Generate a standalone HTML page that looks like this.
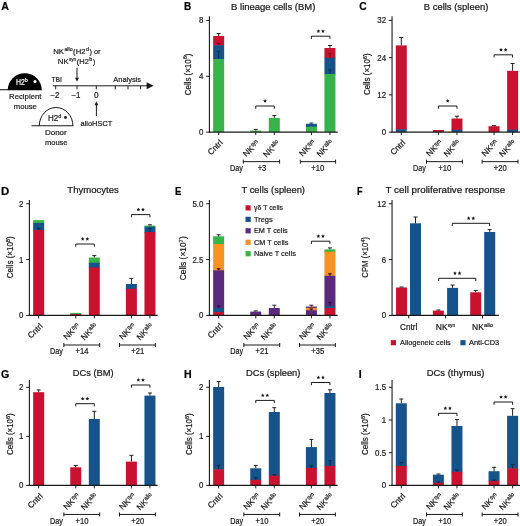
<!DOCTYPE html>
<html><head><meta charset="utf-8"><title>Figure</title>
<style>html,body{margin:0;padding:0;background:#fff}svg{display:block;will-change:transform;opacity:0.999}text{font-family:"Liberation Sans",sans-serif;stroke-width:0.22px;stroke-linejoin:round}</style>
</head><body>
<svg width="520" height="526" viewBox="0 0 520 526">
<rect width="520" height="526" fill="#fff"/>
<text x="1.3" y="9.7" font-size="10.6" font-weight="bold" fill="#000" stroke="#000">A</text>
<path d="M7.7 90.2 A17.05 17.0 0 0 1 41.8 90.2 Z" fill="#000"/>
<line x1="0.00" y1="89.70" x2="9.00" y2="89.70" stroke="#1a1a1a" stroke-width="1.1" stroke-linecap="butt"/>
<text x="16.0" y="84.6" font-size="8.3" textLength="11.6" lengthAdjust="spacingAndGlyphs" fill="#fff" stroke="#fff">H2<tspan font-size="5.8" dy="-2.6">b</tspan></text>
<circle cx="35.0" cy="81.5" r="1.6" fill="#fff"/>
<text x="9.0" y="99.1" font-size="8.1" textLength="32.5" lengthAdjust="spacingAndGlyphs" fill="#1c1a1b" stroke="#1c1a1b">Recipient</text>
<text x="13.8" y="108.6" font-size="8.1" textLength="23.1" lengthAdjust="spacingAndGlyphs" fill="#1c1a1b" stroke="#1c1a1b">mouse</text>
<path d="M39.3 125.8 A16.8 18.3 0 0 1 72.9 125.8" fill="#fff" stroke="#1a1a1a" stroke-width="1"/>
<line x1="31.50" y1="125.80" x2="73.40" y2="125.80" stroke="#1a1a1a" stroke-width="1.1" stroke-linecap="butt"/>
<text x="47.9" y="120.8" font-size="8.3" textLength="13.4" lengthAdjust="spacingAndGlyphs" fill="#1c1a1b" stroke="#1c1a1b">H2<tspan font-size="5.8" dy="-2.6">d</tspan></text>
<circle cx="65.5" cy="117.5" r="1.45" fill="#1a1a1a"/>
<text x="45.0" y="135.2" font-size="8.1" textLength="21.7" lengthAdjust="spacingAndGlyphs" fill="#1c1a1b" stroke="#1c1a1b">Donor</text>
<text x="45.0" y="144.8" font-size="8.1" textLength="22.5" lengthAdjust="spacingAndGlyphs" fill="#1c1a1b" stroke="#1c1a1b">mouse</text>
<line x1="52.80" y1="85.80" x2="148.00" y2="85.80" stroke="#1a1a1a" stroke-width="1.0" stroke-linecap="butt"/>
<path d="M153.6 85.8 L146.6 82.3 L146.6 89.3 Z" fill="#1a1a1a"/>
<line x1="55.70" y1="85.80" x2="55.70" y2="89.30" stroke="#1a1a1a" stroke-width="1.0" stroke-linecap="butt"/>
<line x1="77.00" y1="85.80" x2="77.00" y2="89.30" stroke="#1a1a1a" stroke-width="1.0" stroke-linecap="butt"/>
<line x1="96.30" y1="85.80" x2="96.30" y2="89.30" stroke="#1a1a1a" stroke-width="1.0" stroke-linecap="butt"/>
<line x1="115.30" y1="85.80" x2="115.30" y2="89.30" stroke="#1a1a1a" stroke-width="1.0" stroke-linecap="butt"/>
<line x1="128.00" y1="85.80" x2="128.00" y2="89.30" stroke="#1a1a1a" stroke-width="1.0" stroke-linecap="butt"/>
<line x1="140.60" y1="85.80" x2="140.60" y2="89.30" stroke="#1a1a1a" stroke-width="1.0" stroke-linecap="butt"/>
<text x="51.4" y="82.4" font-size="8.1" textLength="10.6" lengthAdjust="spacingAndGlyphs" fill="#1c1a1b" stroke="#1c1a1b">TBI</text>
<text x="113.3" y="82.2" font-size="8.1" textLength="27.7" lengthAdjust="spacingAndGlyphs" fill="#1c1a1b" stroke="#1c1a1b">Analysis</text>
<text x="55.0" y="97.6" font-size="8.3" textLength="8.99" lengthAdjust="spacingAndGlyphs" text-anchor="middle" fill="#1c1a1b" stroke="#1c1a1b">−2</text>
<text x="76.0" y="97.6" font-size="8.3" textLength="8.99" lengthAdjust="spacingAndGlyphs" text-anchor="middle" fill="#1c1a1b" stroke="#1c1a1b">−1</text>
<text x="96.4" y="97.6" font-size="8.3" text-anchor="middle" fill="#1c1a1b" stroke="#1c1a1b">0</text>
<line x1="77.00" y1="67.70" x2="77.00" y2="78.50" stroke="#1a1a1a" stroke-width="1.0" stroke-linecap="butt"/>
<path d="M77 81.8 L75.1 77.8 L78.9 77.8 Z" fill="#1a1a1a"/>
<line x1="96.40" y1="116.00" x2="96.40" y2="104.50" stroke="#1a1a1a" stroke-width="1.0" stroke-linecap="butt"/>
<path d="M96.4 101.3 L94.5 105.3 L98.3 105.3 Z" fill="#1a1a1a"/>
<text x="80.5" y="125.6" font-size="8.1" textLength="31.8" lengthAdjust="spacingAndGlyphs" fill="#1c1a1b" stroke="#1c1a1b">alloHSCT</text>
<text x="53.2" y="53.8" font-size="7.9" textLength="10.9" lengthAdjust="spacingAndGlyphs" fill="#1c1a1b" stroke="#1c1a1b">NK</text>
<text x="64.4" y="51.0" font-size="5.6" textLength="8.2" lengthAdjust="spacingAndGlyphs" fill="#1c1a1b" stroke="#1c1a1b">allo</text>
<text x="73.1" y="53.8" font-size="7.9" textLength="12.4" lengthAdjust="spacingAndGlyphs" fill="#1c1a1b" stroke="#1c1a1b">(H2</text>
<text x="85.9" y="51.0" font-size="5.6" textLength="3.0" lengthAdjust="spacingAndGlyphs" fill="#1c1a1b" stroke="#1c1a1b">d</text>
<text x="89.5" y="53.8" font-size="7.9" textLength="11.0" lengthAdjust="spacingAndGlyphs" fill="#1c1a1b" stroke="#1c1a1b">) or</text>
<text x="57.8" y="63.6" font-size="7.9" textLength="10.9" lengthAdjust="spacingAndGlyphs" fill="#1c1a1b" stroke="#1c1a1b">NK</text>
<text x="69.0" y="60.800000000000004" font-size="5.6" textLength="7.0" lengthAdjust="spacingAndGlyphs" fill="#1c1a1b" stroke="#1c1a1b">syn</text>
<text x="76.8" y="63.6" font-size="7.9" textLength="12.1" lengthAdjust="spacingAndGlyphs" fill="#1c1a1b" stroke="#1c1a1b">(H2</text>
<text x="89.3" y="60.800000000000004" font-size="5.6" textLength="3.0" lengthAdjust="spacingAndGlyphs" fill="#1c1a1b" stroke="#1c1a1b">b</text>
<text x="93.0" y="63.6" font-size="7.9" textLength="2.2" lengthAdjust="spacingAndGlyphs" fill="#1c1a1b" stroke="#1c1a1b">)</text>
<text x="184.0" y="9.7" font-size="10.6" font-weight="bold" textLength="7.2" lengthAdjust="spacingAndGlyphs" fill="#000" stroke="#000">B</text>
<text x="231.1" y="9.5" font-size="8.6" textLength="84.3" lengthAdjust="spacingAndGlyphs" fill="#1c1a1b" stroke="#1c1a1b">B lineage cells (BM)</text>
<rect x="213.15" y="36.00" width="11.00" height="9.70" fill="#ca1230"/>
<rect x="213.15" y="45.20" width="11.00" height="14.30" fill="#17538b"/>
<rect x="213.15" y="59.00" width="11.00" height="73.10" fill="#36b44a"/>
<rect x="250.25" y="130.60" width="11.00" height="1.50" fill="#36b44a"/>
<rect x="268.80" y="117.90" width="11.00" height="14.20" fill="#36b44a"/>
<rect x="305.90" y="123.80" width="11.00" height="3.40" fill="#17538b"/>
<rect x="305.90" y="126.70" width="11.00" height="5.40" fill="#36b44a"/>
<rect x="324.45" y="48.00" width="11.00" height="10.20" fill="#ca1230"/>
<rect x="324.45" y="57.70" width="11.00" height="16.80" fill="#17538b"/>
<rect x="324.45" y="74.00" width="11.00" height="58.10" fill="#36b44a"/>
<line x1="218.65" y1="36.00" x2="218.65" y2="33.50" stroke="#231f20" stroke-width="1.0" stroke-linecap="butt"/>
<line x1="216.65" y1="33.50" x2="220.65" y2="33.50" stroke="#231f20" stroke-width="1.0" stroke-linecap="butt"/>
<line x1="218.65" y1="45.20" x2="218.65" y2="43.40" stroke="#7a0a20" stroke-width="1.2" stroke-linecap="butt"/>
<line x1="216.85" y1="43.40" x2="220.45" y2="43.40" stroke="#7a0a20" stroke-width="1.2" stroke-linecap="butt"/>
<line x1="218.65" y1="59.00" x2="218.65" y2="51.40" stroke="#0e3558" stroke-width="1.2" stroke-linecap="butt"/>
<line x1="216.85" y1="51.40" x2="220.45" y2="51.40" stroke="#0e3558" stroke-width="1.2" stroke-linecap="butt"/>
<line x1="255.75" y1="130.60" x2="255.75" y2="129.40" stroke="#231f20" stroke-width="1.0" stroke-linecap="butt"/>
<line x1="253.75" y1="129.40" x2="257.75" y2="129.40" stroke="#231f20" stroke-width="1.0" stroke-linecap="butt"/>
<line x1="274.30" y1="117.90" x2="274.30" y2="115.60" stroke="#231f20" stroke-width="1.0" stroke-linecap="butt"/>
<line x1="272.30" y1="115.60" x2="276.30" y2="115.60" stroke="#231f20" stroke-width="1.0" stroke-linecap="butt"/>
<line x1="311.40" y1="123.80" x2="311.40" y2="123.00" stroke="#0e3558" stroke-width="1.0" stroke-linecap="butt"/>
<line x1="309.40" y1="123.00" x2="313.40" y2="123.00" stroke="#0e3558" stroke-width="1.0" stroke-linecap="butt"/>
<line x1="329.95" y1="48.00" x2="329.95" y2="45.50" stroke="#231f20" stroke-width="1.0" stroke-linecap="butt"/>
<line x1="327.95" y1="45.50" x2="331.95" y2="45.50" stroke="#231f20" stroke-width="1.0" stroke-linecap="butt"/>
<line x1="329.95" y1="57.70" x2="329.95" y2="53.50" stroke="#7a0a20" stroke-width="1.2" stroke-linecap="butt"/>
<line x1="328.15" y1="53.50" x2="331.75" y2="53.50" stroke="#7a0a20" stroke-width="1.2" stroke-linecap="butt"/>
<line x1="329.95" y1="74.00" x2="329.95" y2="69.70" stroke="#0e3558" stroke-width="1.2" stroke-linecap="butt"/>
<line x1="328.15" y1="69.70" x2="331.75" y2="69.70" stroke="#0e3558" stroke-width="1.2" stroke-linecap="butt"/>
<line x1="209.40" y1="16.30" x2="209.40" y2="132.60" stroke="#1a1a1a" stroke-width="1.1" stroke-linecap="butt"/>
<line x1="208.85" y1="132.10" x2="337.70" y2="132.10" stroke="#1a1a1a" stroke-width="1.1" stroke-linecap="butt"/>
<line x1="206.20" y1="20.40" x2="209.40" y2="20.40" stroke="#1a1a1a" stroke-width="1.0" stroke-linecap="butt"/>
<text x="203.4" y="23.4" font-size="8.3" textLength="4.38" lengthAdjust="spacingAndGlyphs" text-anchor="end" fill="#1c1a1b" stroke="#1c1a1b">8</text>
<line x1="206.20" y1="76.25" x2="209.40" y2="76.25" stroke="#1a1a1a" stroke-width="1.0" stroke-linecap="butt"/>
<text x="203.4" y="79.25" font-size="8.3" textLength="4.38" lengthAdjust="spacingAndGlyphs" text-anchor="end" fill="#1c1a1b" stroke="#1c1a1b">4</text>
<line x1="206.20" y1="132.10" x2="209.40" y2="132.10" stroke="#1a1a1a" stroke-width="1.0" stroke-linecap="butt"/>
<text x="203.4" y="135.1" font-size="8.3" textLength="4.38" lengthAdjust="spacingAndGlyphs" text-anchor="end" fill="#1c1a1b" stroke="#1c1a1b">0</text>
<text transform="translate(190.5,74.4) rotate(-90)" font-size="8.3" text-anchor="middle" textLength="41.7" lengthAdjust="spacingAndGlyphs" fill="#1c1a1b" stroke="#1c1a1b">Cells (×10<tspan font-size="5.9" dy="-3.3">6</tspan><tspan dy="3.3">)</tspan></text>
<line x1="218.65" y1="132.10" x2="218.65" y2="135.10" stroke="#1a1a1a" stroke-width="1.0" stroke-linecap="butt"/>
<g transform="translate(223.25,143.30) rotate(-45)">
<text x="-17.3" y="0" font-size="8.3" textLength="17.3" lengthAdjust="spacingAndGlyphs" fill="#1c1a1b" stroke="#1c1a1b">Cntrl</text>
</g>
<line x1="255.75" y1="132.10" x2="255.75" y2="135.10" stroke="#1a1a1a" stroke-width="1.0" stroke-linecap="butt"/>
<g transform="translate(259.75,143.60) rotate(-45)">
<text x="-19.25" y="0" font-size="8.3" textLength="11.8" lengthAdjust="spacingAndGlyphs" fill="#1c1a1b" stroke="#1c1a1b">NK</text>
<text x="-7.299999999999999" y="-2.4" font-size="6.1" textLength="7.3" lengthAdjust="spacingAndGlyphs" fill="#1c1a1b" stroke="#1c1a1b">syn</text>
</g>
<line x1="274.30" y1="132.10" x2="274.30" y2="135.10" stroke="#1a1a1a" stroke-width="1.0" stroke-linecap="butt"/>
<g transform="translate(280.60,143.90) rotate(-45)">
<text x="-19.9" y="0" font-size="8.3" textLength="11.5" lengthAdjust="spacingAndGlyphs" fill="#1c1a1b" stroke="#1c1a1b">NK</text>
<text x="-8.299999999999999" y="-2.7" font-size="6.1" textLength="8.3" lengthAdjust="spacingAndGlyphs" fill="#1c1a1b" stroke="#1c1a1b">allo</text>
</g>
<line x1="311.40" y1="132.10" x2="311.40" y2="135.10" stroke="#1a1a1a" stroke-width="1.0" stroke-linecap="butt"/>
<g transform="translate(316.00,143.30) rotate(-45)">
<text x="-19.25" y="0" font-size="8.3" textLength="11.8" lengthAdjust="spacingAndGlyphs" fill="#1c1a1b" stroke="#1c1a1b">NK</text>
<text x="-7.299999999999999" y="-2.4" font-size="6.1" textLength="7.3" lengthAdjust="spacingAndGlyphs" fill="#1c1a1b" stroke="#1c1a1b">syn</text>
</g>
<line x1="329.95" y1="132.10" x2="329.95" y2="135.10" stroke="#1a1a1a" stroke-width="1.0" stroke-linecap="butt"/>
<g transform="translate(333.95,143.40) rotate(-45)">
<text x="-19.9" y="0" font-size="8.3" textLength="11.5" lengthAdjust="spacingAndGlyphs" fill="#1c1a1b" stroke="#1c1a1b">NK</text>
<text x="-8.299999999999999" y="-2.7" font-size="6.1" textLength="8.3" lengthAdjust="spacingAndGlyphs" fill="#1c1a1b" stroke="#1c1a1b">allo</text>
</g>
<line x1="243.30" y1="161.65" x2="279.60" y2="161.65" stroke="#1a1a1a" stroke-width="1.0" stroke-linecap="butt"/>
<line x1="243.30" y1="159.65" x2="243.30" y2="163.65" stroke="#1a1a1a" stroke-width="1.0" stroke-linecap="butt"/>
<line x1="279.60" y1="159.65" x2="279.60" y2="163.65" stroke="#1a1a1a" stroke-width="1.0" stroke-linecap="butt"/>
<text x="262.025" y="170.85" font-size="8.3" textLength="8.71" lengthAdjust="spacingAndGlyphs" text-anchor="middle" fill="#1c1a1b" stroke="#1c1a1b">+3</text>
<line x1="300.30" y1="161.65" x2="335.60" y2="161.65" stroke="#1a1a1a" stroke-width="1.0" stroke-linecap="butt"/>
<line x1="300.30" y1="159.65" x2="300.30" y2="163.65" stroke="#1a1a1a" stroke-width="1.0" stroke-linecap="butt"/>
<line x1="335.60" y1="159.65" x2="335.60" y2="163.65" stroke="#1a1a1a" stroke-width="1.0" stroke-linecap="butt"/>
<text x="317.675" y="170.85" font-size="8.3" textLength="12.95" lengthAdjust="spacingAndGlyphs" text-anchor="middle" fill="#1c1a1b" stroke="#1c1a1b">+10</text>
<text x="230.0" y="170.85" font-size="8.3" textLength="12.8" lengthAdjust="spacingAndGlyphs" fill="#1c1a1b" stroke="#1c1a1b">Day</text>
<path d="M255.75 108.70V106.00H274.30V108.70" fill="none" stroke="#1a1a1a" stroke-width="1.0"/>
<polygon points="265.02,99.05 265.58,100.23 266.88,100.40 265.93,101.29 266.17,102.58 265.02,101.95 263.88,102.58 264.12,101.29 263.17,100.40 264.47,100.23" fill="#151515"/>
<path d="M311.40 38.90V36.20H329.95V38.90" fill="none" stroke="#1a1a1a" stroke-width="1.0"/>
<polygon points="318.38,29.25 318.93,30.43 320.23,30.60 319.28,31.49 319.52,32.78 318.38,32.15 317.23,32.78 317.47,31.49 316.52,30.60 317.82,30.43" fill="#151515"/>
<polygon points="322.98,29.25 323.53,30.43 324.83,30.60 323.88,31.49 324.12,32.78 322.98,32.15 321.83,32.78 322.07,31.49 321.12,30.60 322.42,30.43" fill="#151515"/>
<text x="359.2" y="9.7" font-size="10.6" font-weight="bold" textLength="7.4" lengthAdjust="spacingAndGlyphs" fill="#000" stroke="#000">C</text>
<text x="423.8" y="9.5" font-size="8.6" textLength="64.5" lengthAdjust="spacingAndGlyphs" fill="#1c1a1b" stroke="#1c1a1b">B cells (spleen)</text>
<rect x="395.80" y="45.40" width="11.00" height="84.30" fill="#ca1230"/>
<rect x="395.80" y="129.20" width="11.00" height="2.90" fill="#17538b"/>
<rect x="432.90" y="130.00" width="11.00" height="2.10" fill="#ca1230"/>
<rect x="451.45" y="118.50" width="11.00" height="11.80" fill="#ca1230"/>
<rect x="451.45" y="129.80" width="11.00" height="2.30" fill="#17538b"/>
<rect x="488.55" y="126.20" width="11.00" height="5.90" fill="#ca1230"/>
<rect x="507.10" y="70.80" width="11.00" height="59.30" fill="#ca1230"/>
<rect x="507.10" y="129.60" width="11.00" height="2.50" fill="#17538b"/>
<line x1="401.30" y1="45.40" x2="401.30" y2="37.50" stroke="#231f20" stroke-width="1.0" stroke-linecap="butt"/>
<line x1="399.30" y1="37.50" x2="403.30" y2="37.50" stroke="#231f20" stroke-width="1.0" stroke-linecap="butt"/>
<line x1="456.95" y1="118.50" x2="456.95" y2="116.20" stroke="#231f20" stroke-width="1.0" stroke-linecap="butt"/>
<line x1="454.95" y1="116.20" x2="458.95" y2="116.20" stroke="#231f20" stroke-width="1.0" stroke-linecap="butt"/>
<line x1="494.05" y1="126.20" x2="494.05" y2="125.60" stroke="#231f20" stroke-width="1.0" stroke-linecap="butt"/>
<line x1="492.05" y1="125.60" x2="496.05" y2="125.60" stroke="#231f20" stroke-width="1.0" stroke-linecap="butt"/>
<line x1="512.60" y1="70.80" x2="512.60" y2="63.50" stroke="#231f20" stroke-width="1.0" stroke-linecap="butt"/>
<line x1="510.60" y1="63.50" x2="514.60" y2="63.50" stroke="#231f20" stroke-width="1.0" stroke-linecap="butt"/>
<line x1="392.05" y1="16.30" x2="392.05" y2="132.60" stroke="#1a1a1a" stroke-width="1.1" stroke-linecap="butt"/>
<line x1="391.50" y1="132.10" x2="520.00" y2="132.10" stroke="#1a1a1a" stroke-width="1.1" stroke-linecap="butt"/>
<line x1="388.85" y1="20.40" x2="392.05" y2="20.40" stroke="#1a1a1a" stroke-width="1.0" stroke-linecap="butt"/>
<text x="386.05" y="23.4" font-size="8.3" textLength="8.77" lengthAdjust="spacingAndGlyphs" text-anchor="end" fill="#1c1a1b" stroke="#1c1a1b">32</text>
<line x1="388.85" y1="57.70" x2="392.05" y2="57.70" stroke="#1a1a1a" stroke-width="1.0" stroke-linecap="butt"/>
<text x="386.05" y="60.7" font-size="8.3" textLength="8.77" lengthAdjust="spacingAndGlyphs" text-anchor="end" fill="#1c1a1b" stroke="#1c1a1b">24</text>
<line x1="388.85" y1="94.85" x2="392.05" y2="94.85" stroke="#1a1a1a" stroke-width="1.0" stroke-linecap="butt"/>
<text x="386.05" y="97.85" font-size="8.3" textLength="8.77" lengthAdjust="spacingAndGlyphs" text-anchor="end" fill="#1c1a1b" stroke="#1c1a1b">12</text>
<line x1="388.85" y1="132.10" x2="392.05" y2="132.10" stroke="#1a1a1a" stroke-width="1.0" stroke-linecap="butt"/>
<text x="386.05" y="135.1" font-size="8.3" textLength="4.38" lengthAdjust="spacingAndGlyphs" text-anchor="end" fill="#1c1a1b" stroke="#1c1a1b">0</text>
<text transform="translate(369.9,74.2) rotate(-90)" font-size="8.3" text-anchor="middle" textLength="41.7" lengthAdjust="spacingAndGlyphs" fill="#1c1a1b" stroke="#1c1a1b">Cells (×10<tspan font-size="5.9" dy="-3.3">6</tspan><tspan dy="3.3">)</tspan></text>
<line x1="401.30" y1="132.10" x2="401.30" y2="135.10" stroke="#1a1a1a" stroke-width="1.0" stroke-linecap="butt"/>
<g transform="translate(405.90,143.30) rotate(-45)">
<text x="-17.3" y="0" font-size="8.3" textLength="17.3" lengthAdjust="spacingAndGlyphs" fill="#1c1a1b" stroke="#1c1a1b">Cntrl</text>
</g>
<line x1="438.40" y1="132.10" x2="438.40" y2="135.10" stroke="#1a1a1a" stroke-width="1.0" stroke-linecap="butt"/>
<g transform="translate(443.00,143.30) rotate(-45)">
<text x="-19.25" y="0" font-size="8.3" textLength="11.8" lengthAdjust="spacingAndGlyphs" fill="#1c1a1b" stroke="#1c1a1b">NK</text>
<text x="-7.299999999999999" y="-2.4" font-size="6.1" textLength="7.3" lengthAdjust="spacingAndGlyphs" fill="#1c1a1b" stroke="#1c1a1b">syn</text>
</g>
<line x1="456.95" y1="132.10" x2="456.95" y2="135.10" stroke="#1a1a1a" stroke-width="1.0" stroke-linecap="butt"/>
<g transform="translate(460.95,143.40) rotate(-45)">
<text x="-19.9" y="0" font-size="8.3" textLength="11.5" lengthAdjust="spacingAndGlyphs" fill="#1c1a1b" stroke="#1c1a1b">NK</text>
<text x="-8.299999999999999" y="-2.7" font-size="6.1" textLength="8.3" lengthAdjust="spacingAndGlyphs" fill="#1c1a1b" stroke="#1c1a1b">allo</text>
</g>
<line x1="494.05" y1="132.10" x2="494.05" y2="135.10" stroke="#1a1a1a" stroke-width="1.0" stroke-linecap="butt"/>
<g transform="translate(498.65,143.30) rotate(-45)">
<text x="-19.25" y="0" font-size="8.3" textLength="11.8" lengthAdjust="spacingAndGlyphs" fill="#1c1a1b" stroke="#1c1a1b">NK</text>
<text x="-7.299999999999999" y="-2.4" font-size="6.1" textLength="7.3" lengthAdjust="spacingAndGlyphs" fill="#1c1a1b" stroke="#1c1a1b">syn</text>
</g>
<line x1="512.60" y1="132.10" x2="512.60" y2="135.10" stroke="#1a1a1a" stroke-width="1.0" stroke-linecap="butt"/>
<g transform="translate(516.60,143.40) rotate(-45)">
<text x="-19.9" y="0" font-size="8.3" textLength="11.5" lengthAdjust="spacingAndGlyphs" fill="#1c1a1b" stroke="#1c1a1b">NK</text>
<text x="-8.299999999999999" y="-2.7" font-size="6.1" textLength="8.3" lengthAdjust="spacingAndGlyphs" fill="#1c1a1b" stroke="#1c1a1b">allo</text>
</g>
<line x1="426.50" y1="161.65" x2="462.35" y2="161.65" stroke="#1a1a1a" stroke-width="1.0" stroke-linecap="butt"/>
<line x1="426.50" y1="159.65" x2="426.50" y2="163.65" stroke="#1a1a1a" stroke-width="1.0" stroke-linecap="butt"/>
<line x1="462.35" y1="159.65" x2="462.35" y2="163.65" stroke="#1a1a1a" stroke-width="1.0" stroke-linecap="butt"/>
<text x="444.67500000000007" y="170.85" font-size="8.3" textLength="12.95" lengthAdjust="spacingAndGlyphs" text-anchor="middle" fill="#1c1a1b" stroke="#1c1a1b">+10</text>
<line x1="482.15" y1="161.65" x2="518.00" y2="161.65" stroke="#1a1a1a" stroke-width="1.0" stroke-linecap="butt"/>
<line x1="482.15" y1="159.65" x2="482.15" y2="163.65" stroke="#1a1a1a" stroke-width="1.0" stroke-linecap="butt"/>
<line x1="518.00" y1="159.65" x2="518.00" y2="163.65" stroke="#1a1a1a" stroke-width="1.0" stroke-linecap="butt"/>
<text x="500.32500000000005" y="170.85" font-size="8.3" textLength="12.95" lengthAdjust="spacingAndGlyphs" text-anchor="middle" fill="#1c1a1b" stroke="#1c1a1b">+20</text>
<text x="413.0" y="170.85" font-size="8.3" textLength="12.8" lengthAdjust="spacingAndGlyphs" fill="#1c1a1b" stroke="#1c1a1b">Day</text>
<path d="M438.40 108.70V106.00H456.95V108.70" fill="none" stroke="#1a1a1a" stroke-width="1.0"/>
<polygon points="447.68,99.05 448.23,100.23 449.53,100.40 448.58,101.29 448.82,102.58 447.68,101.95 446.53,102.58 446.77,101.29 445.82,100.40 447.12,100.23" fill="#151515"/>
<path d="M494.05 57.50V54.80H512.60V57.50" fill="none" stroke="#1a1a1a" stroke-width="1.0"/>
<polygon points="501.03,47.85 501.58,49.03 502.88,49.20 501.93,50.09 502.17,51.38 501.03,50.75 499.88,51.38 500.12,50.09 499.17,49.20 500.47,49.03" fill="#151515"/>
<polygon points="505.63,47.85 506.18,49.03 507.48,49.20 506.53,50.09 506.77,51.38 505.63,50.75 504.48,51.38 504.72,50.09 503.77,49.20 505.07,49.03" fill="#151515"/>
<text x="0.9" y="194.7" font-size="10.6" font-weight="bold" textLength="8.2" lengthAdjust="spacingAndGlyphs" fill="#000" stroke="#000">D</text>
<text x="67.3" y="192.7" font-size="8.6" textLength="51.5" lengthAdjust="spacingAndGlyphs" fill="#1c1a1b" stroke="#1c1a1b">Thymocytes</text>
<rect x="33.15" y="220.10" width="11.00" height="3.30" fill="#36b44a"/>
<rect x="33.15" y="222.90" width="11.00" height="7.60" fill="#17538b"/>
<rect x="33.15" y="230.00" width="11.00" height="85.40" fill="#ca1230"/>
<rect x="70.25" y="312.90" width="11.00" height="1.60" fill="#36b44a"/>
<rect x="70.25" y="314.00" width="11.00" height="1.40" fill="#ca1230"/>
<rect x="88.80" y="257.50" width="11.00" height="5.70" fill="#36b44a"/>
<rect x="88.80" y="262.70" width="11.00" height="5.30" fill="#17538b"/>
<rect x="88.80" y="267.50" width="11.00" height="47.90" fill="#ca1230"/>
<rect x="125.90" y="284.00" width="11.00" height="5.30" fill="#17538b"/>
<rect x="125.90" y="288.80" width="11.00" height="26.60" fill="#ca1230"/>
<rect x="144.45" y="225.60" width="11.00" height="1.60" fill="#36b44a"/>
<rect x="144.45" y="226.70" width="11.00" height="5.80" fill="#17538b"/>
<rect x="144.45" y="232.00" width="11.00" height="83.40" fill="#ca1230"/>
<line x1="38.65" y1="230.00" x2="38.65" y2="228.20" stroke="#0b2f52" stroke-width="1.2" stroke-linecap="butt"/>
<line x1="36.85" y1="228.20" x2="40.45" y2="228.20" stroke="#0b2f52" stroke-width="1.2" stroke-linecap="butt"/>
<line x1="94.30" y1="257.50" x2="94.30" y2="255.60" stroke="#231f20" stroke-width="1.0" stroke-linecap="butt"/>
<line x1="92.30" y1="255.60" x2="96.30" y2="255.60" stroke="#231f20" stroke-width="1.0" stroke-linecap="butt"/>
<line x1="131.40" y1="284.00" x2="131.40" y2="278.40" stroke="#231f20" stroke-width="1.0" stroke-linecap="butt"/>
<line x1="129.40" y1="278.40" x2="133.40" y2="278.40" stroke="#231f20" stroke-width="1.0" stroke-linecap="butt"/>
<line x1="149.95" y1="225.60" x2="149.95" y2="224.80" stroke="#231f20" stroke-width="1.0" stroke-linecap="butt"/>
<line x1="147.95" y1="224.80" x2="151.95" y2="224.80" stroke="#231f20" stroke-width="1.0" stroke-linecap="butt"/>
<line x1="149.95" y1="232.00" x2="149.95" y2="228.50" stroke="#0b2f52" stroke-width="1.2" stroke-linecap="butt"/>
<line x1="148.15" y1="228.50" x2="151.75" y2="228.50" stroke="#0b2f52" stroke-width="1.2" stroke-linecap="butt"/>
<line x1="29.40" y1="199.90" x2="29.40" y2="315.90" stroke="#1a1a1a" stroke-width="1.1" stroke-linecap="butt"/>
<line x1="28.85" y1="315.40" x2="157.70" y2="315.40" stroke="#1a1a1a" stroke-width="1.1" stroke-linecap="butt"/>
<line x1="26.20" y1="203.75" x2="29.40" y2="203.75" stroke="#1a1a1a" stroke-width="1.0" stroke-linecap="butt"/>
<text x="23.4" y="206.75" font-size="8.3" textLength="4.38" lengthAdjust="spacingAndGlyphs" text-anchor="end" fill="#1c1a1b" stroke="#1c1a1b">2</text>
<line x1="26.20" y1="259.55" x2="29.40" y2="259.55" stroke="#1a1a1a" stroke-width="1.0" stroke-linecap="butt"/>
<text x="23.4" y="262.55" font-size="8.3" textLength="4.38" lengthAdjust="spacingAndGlyphs" text-anchor="end" fill="#1c1a1b" stroke="#1c1a1b">1</text>
<line x1="26.20" y1="315.40" x2="29.40" y2="315.40" stroke="#1a1a1a" stroke-width="1.0" stroke-linecap="butt"/>
<text x="23.4" y="318.4" font-size="8.3" textLength="4.38" lengthAdjust="spacingAndGlyphs" text-anchor="end" fill="#1c1a1b" stroke="#1c1a1b">0</text>
<text transform="translate(12.8,257.3) rotate(-90)" font-size="8.3" text-anchor="middle" textLength="42.0" lengthAdjust="spacingAndGlyphs" fill="#1c1a1b" stroke="#1c1a1b">Cells (×10<tspan font-size="5.9" dy="-3.3">8</tspan><tspan dy="3.3">)</tspan></text>
<line x1="38.65" y1="315.40" x2="38.65" y2="318.40" stroke="#1a1a1a" stroke-width="1.0" stroke-linecap="butt"/>
<g transform="translate(43.25,326.60) rotate(-45)">
<text x="-17.3" y="0" font-size="8.3" textLength="17.3" lengthAdjust="spacingAndGlyphs" fill="#1c1a1b" stroke="#1c1a1b">Cntrl</text>
</g>
<line x1="75.75" y1="315.40" x2="75.75" y2="318.40" stroke="#1a1a1a" stroke-width="1.0" stroke-linecap="butt"/>
<g transform="translate(80.35,326.60) rotate(-45)">
<text x="-19.25" y="0" font-size="8.3" textLength="11.8" lengthAdjust="spacingAndGlyphs" fill="#1c1a1b" stroke="#1c1a1b">NK</text>
<text x="-7.299999999999999" y="-2.4" font-size="6.1" textLength="7.3" lengthAdjust="spacingAndGlyphs" fill="#1c1a1b" stroke="#1c1a1b">syn</text>
</g>
<line x1="94.30" y1="315.40" x2="94.30" y2="318.40" stroke="#1a1a1a" stroke-width="1.0" stroke-linecap="butt"/>
<g transform="translate(98.30,326.70) rotate(-45)">
<text x="-19.9" y="0" font-size="8.3" textLength="11.5" lengthAdjust="spacingAndGlyphs" fill="#1c1a1b" stroke="#1c1a1b">NK</text>
<text x="-8.299999999999999" y="-2.7" font-size="6.1" textLength="8.3" lengthAdjust="spacingAndGlyphs" fill="#1c1a1b" stroke="#1c1a1b">allo</text>
</g>
<line x1="131.40" y1="315.40" x2="131.40" y2="318.40" stroke="#1a1a1a" stroke-width="1.0" stroke-linecap="butt"/>
<g transform="translate(136.00,326.60) rotate(-45)">
<text x="-19.25" y="0" font-size="8.3" textLength="11.8" lengthAdjust="spacingAndGlyphs" fill="#1c1a1b" stroke="#1c1a1b">NK</text>
<text x="-7.299999999999999" y="-2.4" font-size="6.1" textLength="7.3" lengthAdjust="spacingAndGlyphs" fill="#1c1a1b" stroke="#1c1a1b">syn</text>
</g>
<line x1="149.95" y1="315.40" x2="149.95" y2="318.40" stroke="#1a1a1a" stroke-width="1.0" stroke-linecap="butt"/>
<g transform="translate(153.95,326.70) rotate(-45)">
<text x="-19.9" y="0" font-size="8.3" textLength="11.5" lengthAdjust="spacingAndGlyphs" fill="#1c1a1b" stroke="#1c1a1b">NK</text>
<text x="-8.299999999999999" y="-2.7" font-size="6.1" textLength="8.3" lengthAdjust="spacingAndGlyphs" fill="#1c1a1b" stroke="#1c1a1b">allo</text>
</g>
<line x1="63.85" y1="345.00" x2="99.70" y2="345.00" stroke="#1a1a1a" stroke-width="1.0" stroke-linecap="butt"/>
<line x1="63.85" y1="343.00" x2="63.85" y2="347.00" stroke="#1a1a1a" stroke-width="1.0" stroke-linecap="butt"/>
<line x1="99.70" y1="343.00" x2="99.70" y2="347.00" stroke="#1a1a1a" stroke-width="1.0" stroke-linecap="butt"/>
<text x="82.025" y="354.2" font-size="8.3" textLength="12.95" lengthAdjust="spacingAndGlyphs" text-anchor="middle" fill="#1c1a1b" stroke="#1c1a1b">+14</text>
<line x1="119.50" y1="345.00" x2="155.35" y2="345.00" stroke="#1a1a1a" stroke-width="1.0" stroke-linecap="butt"/>
<line x1="119.50" y1="343.00" x2="119.50" y2="347.00" stroke="#1a1a1a" stroke-width="1.0" stroke-linecap="butt"/>
<line x1="155.35" y1="343.00" x2="155.35" y2="347.00" stroke="#1a1a1a" stroke-width="1.0" stroke-linecap="butt"/>
<text x="137.675" y="354.2" font-size="8.3" textLength="12.95" lengthAdjust="spacingAndGlyphs" text-anchor="middle" fill="#1c1a1b" stroke="#1c1a1b">+21</text>
<text x="50.0" y="354.2" font-size="8.3" textLength="12.8" lengthAdjust="spacingAndGlyphs" fill="#1c1a1b" stroke="#1c1a1b">Day</text>
<path d="M75.75 246.70V244.00H94.30V246.70" fill="none" stroke="#1a1a1a" stroke-width="1.0"/>
<polygon points="82.73,237.05 83.28,238.23 84.58,238.40 83.63,239.29 83.87,240.58 82.73,239.95 81.58,240.58 81.82,239.29 80.87,238.40 82.17,238.23" fill="#151515"/>
<polygon points="87.33,237.05 87.88,238.23 89.18,238.40 88.23,239.29 88.47,240.58 87.33,239.95 86.18,240.58 86.42,239.29 85.47,238.40 86.77,238.23" fill="#151515"/>
<path d="M131.40 217.30V214.60H149.95V217.30" fill="none" stroke="#1a1a1a" stroke-width="1.0"/>
<polygon points="138.38,207.65 138.93,208.83 140.23,209.00 139.28,209.89 139.52,211.18 138.38,210.55 137.23,211.18 137.47,209.89 136.52,209.00 137.82,208.83" fill="#151515"/>
<polygon points="142.98,207.65 143.53,208.83 144.83,209.00 143.88,209.89 144.12,211.18 142.98,210.55 141.83,211.18 142.07,209.89 141.12,209.00 142.42,208.83" fill="#151515"/>
<text x="174.9" y="194.7" font-size="10.6" font-weight="bold" textLength="6.4" lengthAdjust="spacingAndGlyphs" fill="#000" stroke="#000">E</text>
<text x="241.5" y="192.9" font-size="8.6" textLength="63.5" lengthAdjust="spacingAndGlyphs" fill="#1c1a1b" stroke="#1c1a1b">T cells (spleen)</text>
<rect x="213.15" y="236.30" width="11.00" height="8.20" fill="#36b44a"/>
<rect x="213.15" y="244.00" width="11.00" height="26.80" fill="#f7931e"/>
<rect x="213.15" y="270.30" width="11.00" height="38.20" fill="#5b2a7c"/>
<rect x="213.15" y="308.00" width="11.00" height="4.50" fill="#17538b"/>
<rect x="213.15" y="312.00" width="11.00" height="3.40" fill="#ca1230"/>
<rect x="250.25" y="311.60" width="11.00" height="3.80" fill="#5b2a7c"/>
<rect x="268.80" y="308.00" width="11.00" height="7.40" fill="#5b2a7c"/>
<rect x="305.90" y="306.50" width="11.00" height="1.80" fill="#5b2a7c"/>
<rect x="305.90" y="307.80" width="11.00" height="2.90" fill="#f7931e"/>
<rect x="305.90" y="310.20" width="11.00" height="5.20" fill="#5b2a7c"/>
<rect x="324.45" y="249.40" width="11.00" height="2.80" fill="#36b44a"/>
<rect x="324.45" y="251.70" width="11.00" height="24.60" fill="#f7931e"/>
<rect x="324.45" y="275.80" width="11.00" height="30.50" fill="#5b2a7c"/>
<rect x="324.45" y="305.80" width="11.00" height="2.70" fill="#17538b"/>
<rect x="324.45" y="308.00" width="11.00" height="7.40" fill="#ca1230"/>
<line x1="218.65" y1="236.30" x2="218.65" y2="234.80" stroke="#231f20" stroke-width="1.0" stroke-linecap="butt"/>
<line x1="216.65" y1="234.80" x2="220.65" y2="234.80" stroke="#231f20" stroke-width="1.0" stroke-linecap="butt"/>
<line x1="218.65" y1="270.30" x2="218.65" y2="268.80" stroke="#33124a" stroke-width="1.2" stroke-linecap="butt"/>
<line x1="216.85" y1="268.80" x2="220.45" y2="268.80" stroke="#33124a" stroke-width="1.2" stroke-linecap="butt"/>
<line x1="218.65" y1="308.00" x2="218.65" y2="305.80" stroke="#33124a" stroke-width="1.2" stroke-linecap="butt"/>
<line x1="216.85" y1="305.80" x2="220.45" y2="305.80" stroke="#33124a" stroke-width="1.2" stroke-linecap="butt"/>
<line x1="255.75" y1="311.60" x2="255.75" y2="310.90" stroke="#231f20" stroke-width="1.0" stroke-linecap="butt"/>
<line x1="253.75" y1="310.90" x2="257.75" y2="310.90" stroke="#231f20" stroke-width="1.0" stroke-linecap="butt"/>
<line x1="274.30" y1="308.00" x2="274.30" y2="305.20" stroke="#231f20" stroke-width="1.0" stroke-linecap="butt"/>
<line x1="272.30" y1="305.20" x2="276.30" y2="305.20" stroke="#231f20" stroke-width="1.0" stroke-linecap="butt"/>
<line x1="311.40" y1="306.50" x2="311.40" y2="305.20" stroke="#231f20" stroke-width="1.0" stroke-linecap="butt"/>
<line x1="309.40" y1="305.20" x2="313.40" y2="305.20" stroke="#231f20" stroke-width="1.0" stroke-linecap="butt"/>
<line x1="311.40" y1="310.20" x2="311.40" y2="309.00" stroke="#33124a" stroke-width="1.2" stroke-linecap="butt"/>
<line x1="309.60" y1="309.00" x2="313.20" y2="309.00" stroke="#33124a" stroke-width="1.2" stroke-linecap="butt"/>
<line x1="329.95" y1="249.40" x2="329.95" y2="247.90" stroke="#231f20" stroke-width="1.0" stroke-linecap="butt"/>
<line x1="327.95" y1="247.90" x2="331.95" y2="247.90" stroke="#231f20" stroke-width="1.0" stroke-linecap="butt"/>
<line x1="329.95" y1="275.80" x2="329.95" y2="273.80" stroke="#33124a" stroke-width="1.2" stroke-linecap="butt"/>
<line x1="328.15" y1="273.80" x2="331.75" y2="273.80" stroke="#33124a" stroke-width="1.2" stroke-linecap="butt"/>
<line x1="329.95" y1="305.80" x2="329.95" y2="302.50" stroke="#2a0f44" stroke-width="1.2" stroke-linecap="butt"/>
<line x1="328.15" y1="302.50" x2="331.75" y2="302.50" stroke="#2a0f44" stroke-width="1.2" stroke-linecap="butt"/>
<line x1="209.40" y1="199.90" x2="209.40" y2="315.90" stroke="#1a1a1a" stroke-width="1.1" stroke-linecap="butt"/>
<line x1="208.85" y1="315.40" x2="337.70" y2="315.40" stroke="#1a1a1a" stroke-width="1.1" stroke-linecap="butt"/>
<line x1="206.20" y1="203.75" x2="209.40" y2="203.75" stroke="#1a1a1a" stroke-width="1.0" stroke-linecap="butt"/>
<text x="203.4" y="206.75" font-size="8.3" textLength="10.96" lengthAdjust="spacingAndGlyphs" text-anchor="end" fill="#1c1a1b" stroke="#1c1a1b">5.0</text>
<line x1="206.20" y1="259.55" x2="209.40" y2="259.55" stroke="#1a1a1a" stroke-width="1.0" stroke-linecap="butt"/>
<text x="203.4" y="262.55" font-size="8.3" textLength="10.96" lengthAdjust="spacingAndGlyphs" text-anchor="end" fill="#1c1a1b" stroke="#1c1a1b">2.5</text>
<line x1="206.20" y1="315.40" x2="209.40" y2="315.40" stroke="#1a1a1a" stroke-width="1.0" stroke-linecap="butt"/>
<text x="203.4" y="318.4" font-size="8.3" textLength="4.38" lengthAdjust="spacingAndGlyphs" text-anchor="end" fill="#1c1a1b" stroke="#1c1a1b">0</text>
<text transform="translate(186.3,258.3) rotate(-90)" font-size="8.3" text-anchor="middle" textLength="44.0" lengthAdjust="spacingAndGlyphs" fill="#1c1a1b" stroke="#1c1a1b">Cells (×10<tspan font-size="5.9" dy="-3.3">7</tspan><tspan dy="3.3">)</tspan></text>
<line x1="218.65" y1="315.40" x2="218.65" y2="318.40" stroke="#1a1a1a" stroke-width="1.0" stroke-linecap="butt"/>
<g transform="translate(223.25,326.60) rotate(-45)">
<text x="-17.3" y="0" font-size="8.3" textLength="17.3" lengthAdjust="spacingAndGlyphs" fill="#1c1a1b" stroke="#1c1a1b">Cntrl</text>
</g>
<line x1="255.75" y1="315.40" x2="255.75" y2="318.40" stroke="#1a1a1a" stroke-width="1.0" stroke-linecap="butt"/>
<g transform="translate(260.35,326.60) rotate(-45)">
<text x="-19.25" y="0" font-size="8.3" textLength="11.8" lengthAdjust="spacingAndGlyphs" fill="#1c1a1b" stroke="#1c1a1b">NK</text>
<text x="-7.299999999999999" y="-2.4" font-size="6.1" textLength="7.3" lengthAdjust="spacingAndGlyphs" fill="#1c1a1b" stroke="#1c1a1b">syn</text>
</g>
<line x1="274.30" y1="315.40" x2="274.30" y2="318.40" stroke="#1a1a1a" stroke-width="1.0" stroke-linecap="butt"/>
<g transform="translate(278.30,326.70) rotate(-45)">
<text x="-19.9" y="0" font-size="8.3" textLength="11.5" lengthAdjust="spacingAndGlyphs" fill="#1c1a1b" stroke="#1c1a1b">NK</text>
<text x="-8.299999999999999" y="-2.7" font-size="6.1" textLength="8.3" lengthAdjust="spacingAndGlyphs" fill="#1c1a1b" stroke="#1c1a1b">allo</text>
</g>
<line x1="311.40" y1="315.40" x2="311.40" y2="318.40" stroke="#1a1a1a" stroke-width="1.0" stroke-linecap="butt"/>
<g transform="translate(316.00,326.60) rotate(-45)">
<text x="-19.25" y="0" font-size="8.3" textLength="11.8" lengthAdjust="spacingAndGlyphs" fill="#1c1a1b" stroke="#1c1a1b">NK</text>
<text x="-7.299999999999999" y="-2.4" font-size="6.1" textLength="7.3" lengthAdjust="spacingAndGlyphs" fill="#1c1a1b" stroke="#1c1a1b">syn</text>
</g>
<line x1="329.95" y1="315.40" x2="329.95" y2="318.40" stroke="#1a1a1a" stroke-width="1.0" stroke-linecap="butt"/>
<g transform="translate(333.95,326.70) rotate(-45)">
<text x="-19.9" y="0" font-size="8.3" textLength="11.5" lengthAdjust="spacingAndGlyphs" fill="#1c1a1b" stroke="#1c1a1b">NK</text>
<text x="-8.299999999999999" y="-2.7" font-size="6.1" textLength="8.3" lengthAdjust="spacingAndGlyphs" fill="#1c1a1b" stroke="#1c1a1b">allo</text>
</g>
<line x1="243.85" y1="345.00" x2="279.70" y2="345.00" stroke="#1a1a1a" stroke-width="1.0" stroke-linecap="butt"/>
<line x1="243.85" y1="343.00" x2="243.85" y2="347.00" stroke="#1a1a1a" stroke-width="1.0" stroke-linecap="butt"/>
<line x1="279.70" y1="343.00" x2="279.70" y2="347.00" stroke="#1a1a1a" stroke-width="1.0" stroke-linecap="butt"/>
<text x="262.025" y="354.2" font-size="8.3" textLength="12.95" lengthAdjust="spacingAndGlyphs" text-anchor="middle" fill="#1c1a1b" stroke="#1c1a1b">+21</text>
<line x1="299.50" y1="345.00" x2="335.35" y2="345.00" stroke="#1a1a1a" stroke-width="1.0" stroke-linecap="butt"/>
<line x1="299.50" y1="343.00" x2="299.50" y2="347.00" stroke="#1a1a1a" stroke-width="1.0" stroke-linecap="butt"/>
<line x1="335.35" y1="343.00" x2="335.35" y2="347.00" stroke="#1a1a1a" stroke-width="1.0" stroke-linecap="butt"/>
<text x="317.675" y="354.2" font-size="8.3" textLength="12.95" lengthAdjust="spacingAndGlyphs" text-anchor="middle" fill="#1c1a1b" stroke="#1c1a1b">+35</text>
<text x="230.3" y="354.2" font-size="8.3" textLength="12.8" lengthAdjust="spacingAndGlyphs" fill="#1c1a1b" stroke="#1c1a1b">Day</text>
<path d="M311.40 243.90V241.20H329.95V243.90" fill="none" stroke="#1a1a1a" stroke-width="1.0"/>
<polygon points="318.38,234.25 318.93,235.43 320.23,235.60 319.28,236.49 319.52,237.78 318.38,237.15 317.23,237.78 317.47,236.49 316.52,235.60 317.82,235.43" fill="#151515"/>
<polygon points="322.98,234.25 323.53,235.43 324.83,235.60 323.88,236.49 324.12,237.78 322.98,237.15 321.83,237.78 322.07,236.49 321.12,235.60 322.42,235.43" fill="#151515"/>
<rect x="245.50" y="205.30" width="5.20" height="5.20" fill="#ca1230"/>
<text x="254.0" y="210.35" font-size="8.0" textLength="28.9" lengthAdjust="spacingAndGlyphs" fill="#1c1a1b" stroke="#1c1a1b">γδ T cells</text>
<rect x="245.50" y="216.75" width="5.20" height="5.20" fill="#17538b"/>
<text x="254.0" y="221.79999999999998" font-size="8.0" textLength="18.7" lengthAdjust="spacingAndGlyphs" fill="#1c1a1b" stroke="#1c1a1b">Tregs</text>
<rect x="245.50" y="228.20" width="5.20" height="5.20" fill="#5b2a7c"/>
<text x="254.0" y="233.25" font-size="8.0" textLength="33.7" lengthAdjust="spacingAndGlyphs" fill="#1c1a1b" stroke="#1c1a1b">EM T cells</text>
<rect x="245.50" y="239.65" width="5.20" height="5.20" fill="#f7931e"/>
<text x="254.0" y="244.7" font-size="8.0" textLength="34.3" lengthAdjust="spacingAndGlyphs" fill="#1c1a1b" stroke="#1c1a1b">CM T cells</text>
<rect x="245.50" y="251.10" width="5.20" height="5.20" fill="#36b44a"/>
<text x="254.0" y="256.15" font-size="8.0" textLength="41.8" lengthAdjust="spacingAndGlyphs" fill="#1c1a1b" stroke="#1c1a1b">Naive T cells</text>
<text x="357.0" y="194.7" font-size="10.6" font-weight="bold" textLength="5.6" lengthAdjust="spacingAndGlyphs" fill="#000" stroke="#000">F</text>
<text x="385.6" y="192.9" font-size="8.6" textLength="119.6" lengthAdjust="spacingAndGlyphs" fill="#1c1a1b" stroke="#1c1a1b">T cell proliferative response</text>
<rect x="396.05" y="287.50" width="11.00" height="27.90" fill="#ca1230"/>
<line x1="401.55" y1="287.50" x2="401.55" y2="287.00" stroke="#231f20" stroke-width="1.0" stroke-linecap="butt"/>
<line x1="399.55" y1="287.00" x2="403.55" y2="287.00" stroke="#231f20" stroke-width="1.0" stroke-linecap="butt"/>
<rect x="410.00" y="223.30" width="11.00" height="92.10" fill="#17538b"/>
<line x1="415.50" y1="223.30" x2="415.50" y2="217.00" stroke="#231f20" stroke-width="1.0" stroke-linecap="butt"/>
<line x1="413.50" y1="217.00" x2="417.50" y2="217.00" stroke="#231f20" stroke-width="1.0" stroke-linecap="butt"/>
<rect x="432.85" y="310.60" width="11.00" height="4.80" fill="#ca1230"/>
<line x1="438.35" y1="310.60" x2="438.35" y2="310.00" stroke="#231f20" stroke-width="1.0" stroke-linecap="butt"/>
<line x1="436.35" y1="310.00" x2="440.35" y2="310.00" stroke="#231f20" stroke-width="1.0" stroke-linecap="butt"/>
<rect x="447.10" y="287.90" width="11.00" height="27.50" fill="#17538b"/>
<line x1="452.60" y1="287.90" x2="452.60" y2="285.00" stroke="#231f20" stroke-width="1.0" stroke-linecap="butt"/>
<line x1="450.60" y1="285.00" x2="454.60" y2="285.00" stroke="#231f20" stroke-width="1.0" stroke-linecap="butt"/>
<rect x="470.20" y="292.30" width="11.00" height="23.10" fill="#ca1230"/>
<line x1="475.70" y1="292.30" x2="475.70" y2="290.40" stroke="#231f20" stroke-width="1.0" stroke-linecap="butt"/>
<line x1="473.70" y1="290.40" x2="477.70" y2="290.40" stroke="#231f20" stroke-width="1.0" stroke-linecap="butt"/>
<rect x="484.20" y="232.00" width="11.00" height="83.40" fill="#17538b"/>
<line x1="489.70" y1="232.00" x2="489.70" y2="229.60" stroke="#231f20" stroke-width="1.0" stroke-linecap="butt"/>
<line x1="487.70" y1="229.60" x2="491.70" y2="229.60" stroke="#231f20" stroke-width="1.0" stroke-linecap="butt"/>
<line x1="392.05" y1="199.90" x2="392.05" y2="315.90" stroke="#1a1a1a" stroke-width="1.1" stroke-linecap="butt"/>
<line x1="391.50" y1="315.40" x2="498.80" y2="315.40" stroke="#1a1a1a" stroke-width="1.1" stroke-linecap="butt"/>
<line x1="388.85" y1="203.75" x2="392.05" y2="203.75" stroke="#1a1a1a" stroke-width="1.0" stroke-linecap="butt"/>
<text x="386.05" y="206.75" font-size="8.3" textLength="8.77" lengthAdjust="spacingAndGlyphs" text-anchor="end" fill="#1c1a1b" stroke="#1c1a1b">12</text>
<line x1="388.85" y1="259.55" x2="392.05" y2="259.55" stroke="#1a1a1a" stroke-width="1.0" stroke-linecap="butt"/>
<text x="386.05" y="262.55" font-size="8.3" textLength="4.38" lengthAdjust="spacingAndGlyphs" text-anchor="end" fill="#1c1a1b" stroke="#1c1a1b">6</text>
<line x1="388.85" y1="315.40" x2="392.05" y2="315.40" stroke="#1a1a1a" stroke-width="1.0" stroke-linecap="butt"/>
<text x="386.05" y="318.4" font-size="8.3" textLength="4.38" lengthAdjust="spacingAndGlyphs" text-anchor="end" fill="#1c1a1b" stroke="#1c1a1b">0</text>
<text transform="translate(368.3,257.3) rotate(-90)" font-size="8.3" text-anchor="middle" textLength="40.7" lengthAdjust="spacingAndGlyphs" fill="#1c1a1b" stroke="#1c1a1b">CPM (×10<tspan font-size="5.9" dy="-3.3">4</tspan><tspan dy="3.3">)</tspan></text>
<line x1="408.70" y1="315.40" x2="408.70" y2="318.40" stroke="#1a1a1a" stroke-width="1.0" stroke-linecap="butt"/>
<text x="400.0" y="330.0" font-size="8.3" textLength="17.3" lengthAdjust="spacingAndGlyphs" fill="#1c1a1b" stroke="#1c1a1b">Cntrl</text>
<line x1="445.60" y1="315.40" x2="445.60" y2="318.40" stroke="#1a1a1a" stroke-width="1.0" stroke-linecap="butt"/>
<text x="435.8" y="330.0" font-size="8.3" textLength="11.8" lengthAdjust="spacingAndGlyphs" fill="#1c1a1b" stroke="#1c1a1b">NK</text>
<text x="447.75" y="327.1" font-size="5.8" textLength="7.3" lengthAdjust="spacingAndGlyphs" fill="#1c1a1b" stroke="#1c1a1b">syn</text>
<line x1="482.50" y1="315.40" x2="482.50" y2="318.40" stroke="#1a1a1a" stroke-width="1.0" stroke-linecap="butt"/>
<text x="472.0" y="330.0" font-size="8.3" textLength="11.8" lengthAdjust="spacingAndGlyphs" fill="#1c1a1b" stroke="#1c1a1b">NK</text>
<text x="483.95" y="327.1" font-size="5.8" textLength="9.0" lengthAdjust="spacingAndGlyphs" fill="#1c1a1b" stroke="#1c1a1b">allo</text>
<path d="M438.70 281.00V278.30H475.80V281.00" fill="none" stroke="#1a1a1a" stroke-width="1.0"/>
<polygon points="454.95,271.35 455.51,272.53 456.80,272.70 455.85,273.59 456.10,274.88 454.95,274.25 453.80,274.88 454.05,273.59 453.10,272.70 454.39,272.53" fill="#151515"/>
<polygon points="459.55,271.35 460.11,272.53 461.40,272.70 460.45,273.59 460.70,274.88 459.55,274.25 458.40,274.88 458.65,273.59 457.70,272.70 458.99,272.53" fill="#151515"/>
<path d="M452.30 226.00V223.30H489.60V226.00" fill="none" stroke="#1a1a1a" stroke-width="1.0"/>
<polygon points="468.65,216.35 469.21,217.53 470.50,217.70 469.55,218.59 469.80,219.88 468.65,219.25 467.50,219.88 467.75,218.59 466.80,217.70 468.09,217.53" fill="#151515"/>
<polygon points="473.25,216.35 473.81,217.53 475.10,217.70 474.15,218.59 474.40,219.88 473.25,219.25 472.10,219.88 472.35,218.59 471.40,217.70 472.69,217.53" fill="#151515"/>
<rect x="390.80" y="340.10" width="5.20" height="5.20" fill="#ca1230"/>
<text x="400.0" y="344.9" font-size="8.0" textLength="50.8" lengthAdjust="spacingAndGlyphs" fill="#1c1a1b" stroke="#1c1a1b">Allogeneic cells</text>
<rect x="460.40" y="340.10" width="5.20" height="5.20" fill="#17538b"/>
<text x="469.0" y="344.9" font-size="8.0" textLength="30.2" lengthAdjust="spacingAndGlyphs" fill="#1c1a1b" stroke="#1c1a1b">Anti-CD3</text>
<text x="1.0" y="377.8" font-size="10.6" font-weight="bold" fill="#000" stroke="#000">G</text>
<text x="72.7" y="376.4" font-size="8.6" textLength="41.0" lengthAdjust="spacingAndGlyphs" fill="#1c1a1b" stroke="#1c1a1b">DCs (BM)</text>
<rect x="33.15" y="392.20" width="11.00" height="93.20" fill="#ca1230"/>
<line x1="38.65" y1="392.20" x2="38.65" y2="389.90" stroke="#231f20" stroke-width="1.0" stroke-linecap="butt"/>
<line x1="36.65" y1="389.90" x2="40.65" y2="389.90" stroke="#231f20" stroke-width="1.0" stroke-linecap="butt"/>
<rect x="70.25" y="467.30" width="11.00" height="18.10" fill="#ca1230"/>
<line x1="75.75" y1="467.30" x2="75.75" y2="465.40" stroke="#231f20" stroke-width="1.0" stroke-linecap="butt"/>
<line x1="73.75" y1="465.40" x2="77.75" y2="465.40" stroke="#231f20" stroke-width="1.0" stroke-linecap="butt"/>
<rect x="88.80" y="419.00" width="11.00" height="66.40" fill="#17538b"/>
<line x1="94.30" y1="419.00" x2="94.30" y2="411.30" stroke="#231f20" stroke-width="1.0" stroke-linecap="butt"/>
<line x1="92.30" y1="411.30" x2="96.30" y2="411.30" stroke="#231f20" stroke-width="1.0" stroke-linecap="butt"/>
<rect x="125.90" y="461.60" width="11.00" height="23.80" fill="#ca1230"/>
<line x1="131.40" y1="461.60" x2="131.40" y2="455.30" stroke="#231f20" stroke-width="1.0" stroke-linecap="butt"/>
<line x1="129.40" y1="455.30" x2="133.40" y2="455.30" stroke="#231f20" stroke-width="1.0" stroke-linecap="butt"/>
<rect x="144.45" y="395.60" width="11.00" height="89.80" fill="#17538b"/>
<line x1="149.95" y1="395.60" x2="149.95" y2="393.00" stroke="#231f20" stroke-width="1.0" stroke-linecap="butt"/>
<line x1="147.95" y1="393.00" x2="151.95" y2="393.00" stroke="#231f20" stroke-width="1.0" stroke-linecap="butt"/>
<line x1="29.40" y1="379.90" x2="29.40" y2="485.90" stroke="#1a1a1a" stroke-width="1.1" stroke-linecap="butt"/>
<line x1="28.85" y1="485.40" x2="157.70" y2="485.40" stroke="#1a1a1a" stroke-width="1.1" stroke-linecap="butt"/>
<line x1="26.20" y1="387.30" x2="29.40" y2="387.30" stroke="#1a1a1a" stroke-width="1.0" stroke-linecap="butt"/>
<text x="23.4" y="390.3" font-size="8.3" textLength="4.38" lengthAdjust="spacingAndGlyphs" text-anchor="end" fill="#1c1a1b" stroke="#1c1a1b">2</text>
<line x1="26.20" y1="436.35" x2="29.40" y2="436.35" stroke="#1a1a1a" stroke-width="1.0" stroke-linecap="butt"/>
<text x="23.4" y="439.35" font-size="8.3" textLength="4.38" lengthAdjust="spacingAndGlyphs" text-anchor="end" fill="#1c1a1b" stroke="#1c1a1b">1</text>
<line x1="26.20" y1="485.40" x2="29.40" y2="485.40" stroke="#1a1a1a" stroke-width="1.0" stroke-linecap="butt"/>
<text x="23.4" y="488.4" font-size="8.3" textLength="4.38" lengthAdjust="spacingAndGlyphs" text-anchor="end" fill="#1c1a1b" stroke="#1c1a1b">0</text>
<text transform="translate(12.9,434.1) rotate(-90)" font-size="8.3" text-anchor="middle" textLength="41.7" lengthAdjust="spacingAndGlyphs" fill="#1c1a1b" stroke="#1c1a1b">Cells (×10<tspan font-size="5.9" dy="-3.3">6</tspan><tspan dy="3.3">)</tspan></text>
<line x1="38.65" y1="485.40" x2="38.65" y2="488.40" stroke="#1a1a1a" stroke-width="1.0" stroke-linecap="butt"/>
<g transform="translate(43.25,496.60) rotate(-45)">
<text x="-17.3" y="0" font-size="8.3" textLength="17.3" lengthAdjust="spacingAndGlyphs" fill="#1c1a1b" stroke="#1c1a1b">Cntrl</text>
</g>
<line x1="75.75" y1="485.40" x2="75.75" y2="488.40" stroke="#1a1a1a" stroke-width="1.0" stroke-linecap="butt"/>
<g transform="translate(80.35,496.60) rotate(-45)">
<text x="-19.25" y="0" font-size="8.3" textLength="11.8" lengthAdjust="spacingAndGlyphs" fill="#1c1a1b" stroke="#1c1a1b">NK</text>
<text x="-7.299999999999999" y="-2.4" font-size="6.1" textLength="7.3" lengthAdjust="spacingAndGlyphs" fill="#1c1a1b" stroke="#1c1a1b">syn</text>
</g>
<line x1="94.30" y1="485.40" x2="94.30" y2="488.40" stroke="#1a1a1a" stroke-width="1.0" stroke-linecap="butt"/>
<g transform="translate(98.30,496.70) rotate(-45)">
<text x="-19.9" y="0" font-size="8.3" textLength="11.5" lengthAdjust="spacingAndGlyphs" fill="#1c1a1b" stroke="#1c1a1b">NK</text>
<text x="-8.299999999999999" y="-2.7" font-size="6.1" textLength="8.3" lengthAdjust="spacingAndGlyphs" fill="#1c1a1b" stroke="#1c1a1b">allo</text>
</g>
<line x1="131.40" y1="485.40" x2="131.40" y2="488.40" stroke="#1a1a1a" stroke-width="1.0" stroke-linecap="butt"/>
<g transform="translate(136.00,496.60) rotate(-45)">
<text x="-19.25" y="0" font-size="8.3" textLength="11.8" lengthAdjust="spacingAndGlyphs" fill="#1c1a1b" stroke="#1c1a1b">NK</text>
<text x="-7.299999999999999" y="-2.4" font-size="6.1" textLength="7.3" lengthAdjust="spacingAndGlyphs" fill="#1c1a1b" stroke="#1c1a1b">syn</text>
</g>
<line x1="149.95" y1="485.40" x2="149.95" y2="488.40" stroke="#1a1a1a" stroke-width="1.0" stroke-linecap="butt"/>
<g transform="translate(153.95,496.70) rotate(-45)">
<text x="-19.9" y="0" font-size="8.3" textLength="11.5" lengthAdjust="spacingAndGlyphs" fill="#1c1a1b" stroke="#1c1a1b">NK</text>
<text x="-8.299999999999999" y="-2.7" font-size="6.1" textLength="8.3" lengthAdjust="spacingAndGlyphs" fill="#1c1a1b" stroke="#1c1a1b">allo</text>
</g>
<line x1="63.85" y1="514.45" x2="99.70" y2="514.45" stroke="#1a1a1a" stroke-width="1.0" stroke-linecap="butt"/>
<line x1="63.85" y1="512.45" x2="63.85" y2="516.45" stroke="#1a1a1a" stroke-width="1.0" stroke-linecap="butt"/>
<line x1="99.70" y1="512.45" x2="99.70" y2="516.45" stroke="#1a1a1a" stroke-width="1.0" stroke-linecap="butt"/>
<text x="82.025" y="523.6500000000001" font-size="8.3" textLength="12.95" lengthAdjust="spacingAndGlyphs" text-anchor="middle" fill="#1c1a1b" stroke="#1c1a1b">+10</text>
<line x1="119.50" y1="514.45" x2="155.35" y2="514.45" stroke="#1a1a1a" stroke-width="1.0" stroke-linecap="butt"/>
<line x1="119.50" y1="512.45" x2="119.50" y2="516.45" stroke="#1a1a1a" stroke-width="1.0" stroke-linecap="butt"/>
<line x1="155.35" y1="512.45" x2="155.35" y2="516.45" stroke="#1a1a1a" stroke-width="1.0" stroke-linecap="butt"/>
<text x="137.675" y="523.6500000000001" font-size="8.3" textLength="12.95" lengthAdjust="spacingAndGlyphs" text-anchor="middle" fill="#1c1a1b" stroke="#1c1a1b">+20</text>
<text x="50.0" y="523.6500000000001" font-size="8.3" textLength="12.8" lengthAdjust="spacingAndGlyphs" fill="#1c1a1b" stroke="#1c1a1b">Day</text>
<path d="M75.75 406.40V403.70H94.30V406.40" fill="none" stroke="#1a1a1a" stroke-width="1.0"/>
<polygon points="82.73,396.75 83.28,397.93 84.58,398.10 83.63,398.99 83.87,400.28 82.73,399.65 81.58,400.28 81.82,398.99 80.87,398.10 82.17,397.93" fill="#151515"/>
<polygon points="87.33,396.75 87.88,397.93 89.18,398.10 88.23,398.99 88.47,400.28 87.33,399.65 86.18,400.28 86.42,398.99 85.47,398.10 86.77,397.93" fill="#151515"/>
<path d="M131.40 387.70V385.00H149.95V387.70" fill="none" stroke="#1a1a1a" stroke-width="1.0"/>
<polygon points="138.38,378.05 138.93,379.23 140.23,379.40 139.28,380.29 139.52,381.58 138.38,380.95 137.23,381.58 137.47,380.29 136.52,379.40 137.82,379.23" fill="#151515"/>
<polygon points="142.98,378.05 143.53,379.23 144.83,379.40 143.88,380.29 144.12,381.58 142.98,380.95 141.83,381.58 142.07,380.29 141.12,379.40 142.42,379.23" fill="#151515"/>
<text x="184.0" y="377.8" font-size="10.6" font-weight="bold" fill="#000" stroke="#000">H</text>
<text x="246.0" y="376.4" font-size="8.6" textLength="54.4" lengthAdjust="spacingAndGlyphs" fill="#1c1a1b" stroke="#1c1a1b">DCs (spleen)</text>
<rect x="213.15" y="387.00" width="11.00" height="82.80" fill="#17538b"/>
<rect x="213.15" y="469.30" width="11.00" height="16.10" fill="#ca1230"/>
<line x1="218.65" y1="387.00" x2="218.65" y2="381.50" stroke="#231f20" stroke-width="1.0" stroke-linecap="butt"/>
<line x1="216.65" y1="381.50" x2="220.65" y2="381.50" stroke="#231f20" stroke-width="1.0" stroke-linecap="butt"/>
<line x1="218.65" y1="469.30" x2="218.65" y2="465.40" stroke="#0b2f52" stroke-width="1.2" stroke-linecap="butt"/>
<line x1="216.85" y1="465.40" x2="220.45" y2="465.40" stroke="#0b2f52" stroke-width="1.2" stroke-linecap="butt"/>
<rect x="250.25" y="468.30" width="11.00" height="12.00" fill="#17538b"/>
<rect x="250.25" y="479.80" width="11.00" height="5.60" fill="#ca1230"/>
<line x1="255.75" y1="468.30" x2="255.75" y2="465.40" stroke="#231f20" stroke-width="1.0" stroke-linecap="butt"/>
<line x1="253.75" y1="465.40" x2="257.75" y2="465.40" stroke="#231f20" stroke-width="1.0" stroke-linecap="butt"/>
<line x1="255.75" y1="479.80" x2="255.75" y2="477.50" stroke="#0b2f52" stroke-width="1.2" stroke-linecap="butt"/>
<line x1="253.95" y1="477.50" x2="257.55" y2="477.50" stroke="#0b2f52" stroke-width="1.2" stroke-linecap="butt"/>
<rect x="268.80" y="412.00" width="11.00" height="64.10" fill="#17538b"/>
<rect x="268.80" y="475.60" width="11.00" height="9.80" fill="#ca1230"/>
<line x1="274.30" y1="412.00" x2="274.30" y2="407.70" stroke="#231f20" stroke-width="1.0" stroke-linecap="butt"/>
<line x1="272.30" y1="407.70" x2="276.30" y2="407.70" stroke="#231f20" stroke-width="1.0" stroke-linecap="butt"/>
<line x1="274.30" y1="475.60" x2="274.30" y2="474.70" stroke="#0b2f52" stroke-width="1.2" stroke-linecap="butt"/>
<line x1="272.50" y1="474.70" x2="276.10" y2="474.70" stroke="#0b2f52" stroke-width="1.2" stroke-linecap="butt"/>
<rect x="305.90" y="447.10" width="11.00" height="21.30" fill="#17538b"/>
<rect x="305.90" y="467.90" width="11.00" height="17.50" fill="#ca1230"/>
<line x1="311.40" y1="447.10" x2="311.40" y2="439.40" stroke="#231f20" stroke-width="1.0" stroke-linecap="butt"/>
<line x1="309.40" y1="439.40" x2="313.40" y2="439.40" stroke="#231f20" stroke-width="1.0" stroke-linecap="butt"/>
<line x1="311.40" y1="467.90" x2="311.40" y2="465.80" stroke="#0b2f52" stroke-width="1.2" stroke-linecap="butt"/>
<line x1="309.60" y1="465.80" x2="313.20" y2="465.80" stroke="#0b2f52" stroke-width="1.2" stroke-linecap="butt"/>
<rect x="324.45" y="393.00" width="11.00" height="73.30" fill="#17538b"/>
<rect x="324.45" y="465.80" width="11.00" height="19.60" fill="#ca1230"/>
<line x1="329.95" y1="393.00" x2="329.95" y2="389.80" stroke="#231f20" stroke-width="1.0" stroke-linecap="butt"/>
<line x1="327.95" y1="389.80" x2="331.95" y2="389.80" stroke="#231f20" stroke-width="1.0" stroke-linecap="butt"/>
<line x1="329.95" y1="465.80" x2="329.95" y2="460.60" stroke="#0b2f52" stroke-width="1.2" stroke-linecap="butt"/>
<line x1="328.15" y1="460.60" x2="331.75" y2="460.60" stroke="#0b2f52" stroke-width="1.2" stroke-linecap="butt"/>
<line x1="209.40" y1="379.90" x2="209.40" y2="485.90" stroke="#1a1a1a" stroke-width="1.1" stroke-linecap="butt"/>
<line x1="208.85" y1="485.40" x2="337.70" y2="485.40" stroke="#1a1a1a" stroke-width="1.1" stroke-linecap="butt"/>
<line x1="206.20" y1="387.30" x2="209.40" y2="387.30" stroke="#1a1a1a" stroke-width="1.0" stroke-linecap="butt"/>
<text x="203.4" y="390.3" font-size="8.3" textLength="4.38" lengthAdjust="spacingAndGlyphs" text-anchor="end" fill="#1c1a1b" stroke="#1c1a1b">2</text>
<line x1="206.20" y1="436.35" x2="209.40" y2="436.35" stroke="#1a1a1a" stroke-width="1.0" stroke-linecap="butt"/>
<text x="203.4" y="439.35" font-size="8.3" textLength="4.38" lengthAdjust="spacingAndGlyphs" text-anchor="end" fill="#1c1a1b" stroke="#1c1a1b">1</text>
<line x1="206.20" y1="485.40" x2="209.40" y2="485.40" stroke="#1a1a1a" stroke-width="1.0" stroke-linecap="butt"/>
<text x="203.4" y="488.4" font-size="8.3" textLength="4.38" lengthAdjust="spacingAndGlyphs" text-anchor="end" fill="#1c1a1b" stroke="#1c1a1b">0</text>
<text transform="translate(192.3,434.1) rotate(-90)" font-size="8.3" text-anchor="middle" textLength="41.7" lengthAdjust="spacingAndGlyphs" fill="#1c1a1b" stroke="#1c1a1b">Cells (×10<tspan font-size="5.9" dy="-3.3">6</tspan><tspan dy="3.3">)</tspan></text>
<line x1="218.65" y1="485.40" x2="218.65" y2="488.40" stroke="#1a1a1a" stroke-width="1.0" stroke-linecap="butt"/>
<g transform="translate(223.25,496.60) rotate(-45)">
<text x="-17.3" y="0" font-size="8.3" textLength="17.3" lengthAdjust="spacingAndGlyphs" fill="#1c1a1b" stroke="#1c1a1b">Cntrl</text>
</g>
<line x1="255.75" y1="485.40" x2="255.75" y2="488.40" stroke="#1a1a1a" stroke-width="1.0" stroke-linecap="butt"/>
<g transform="translate(260.35,496.60) rotate(-45)">
<text x="-19.25" y="0" font-size="8.3" textLength="11.8" lengthAdjust="spacingAndGlyphs" fill="#1c1a1b" stroke="#1c1a1b">NK</text>
<text x="-7.299999999999999" y="-2.4" font-size="6.1" textLength="7.3" lengthAdjust="spacingAndGlyphs" fill="#1c1a1b" stroke="#1c1a1b">syn</text>
</g>
<line x1="274.30" y1="485.40" x2="274.30" y2="488.40" stroke="#1a1a1a" stroke-width="1.0" stroke-linecap="butt"/>
<g transform="translate(278.30,496.70) rotate(-45)">
<text x="-19.9" y="0" font-size="8.3" textLength="11.5" lengthAdjust="spacingAndGlyphs" fill="#1c1a1b" stroke="#1c1a1b">NK</text>
<text x="-8.299999999999999" y="-2.7" font-size="6.1" textLength="8.3" lengthAdjust="spacingAndGlyphs" fill="#1c1a1b" stroke="#1c1a1b">allo</text>
</g>
<line x1="311.40" y1="485.40" x2="311.40" y2="488.40" stroke="#1a1a1a" stroke-width="1.0" stroke-linecap="butt"/>
<g transform="translate(316.00,496.60) rotate(-45)">
<text x="-19.25" y="0" font-size="8.3" textLength="11.8" lengthAdjust="spacingAndGlyphs" fill="#1c1a1b" stroke="#1c1a1b">NK</text>
<text x="-7.299999999999999" y="-2.4" font-size="6.1" textLength="7.3" lengthAdjust="spacingAndGlyphs" fill="#1c1a1b" stroke="#1c1a1b">syn</text>
</g>
<line x1="329.95" y1="485.40" x2="329.95" y2="488.40" stroke="#1a1a1a" stroke-width="1.0" stroke-linecap="butt"/>
<g transform="translate(333.95,496.70) rotate(-45)">
<text x="-19.9" y="0" font-size="8.3" textLength="11.5" lengthAdjust="spacingAndGlyphs" fill="#1c1a1b" stroke="#1c1a1b">NK</text>
<text x="-8.299999999999999" y="-2.7" font-size="6.1" textLength="8.3" lengthAdjust="spacingAndGlyphs" fill="#1c1a1b" stroke="#1c1a1b">allo</text>
</g>
<line x1="243.85" y1="514.45" x2="279.70" y2="514.45" stroke="#1a1a1a" stroke-width="1.0" stroke-linecap="butt"/>
<line x1="243.85" y1="512.45" x2="243.85" y2="516.45" stroke="#1a1a1a" stroke-width="1.0" stroke-linecap="butt"/>
<line x1="279.70" y1="512.45" x2="279.70" y2="516.45" stroke="#1a1a1a" stroke-width="1.0" stroke-linecap="butt"/>
<text x="262.025" y="523.6500000000001" font-size="8.3" textLength="12.95" lengthAdjust="spacingAndGlyphs" text-anchor="middle" fill="#1c1a1b" stroke="#1c1a1b">+10</text>
<line x1="299.50" y1="514.45" x2="335.35" y2="514.45" stroke="#1a1a1a" stroke-width="1.0" stroke-linecap="butt"/>
<line x1="299.50" y1="512.45" x2="299.50" y2="516.45" stroke="#1a1a1a" stroke-width="1.0" stroke-linecap="butt"/>
<line x1="335.35" y1="512.45" x2="335.35" y2="516.45" stroke="#1a1a1a" stroke-width="1.0" stroke-linecap="butt"/>
<text x="317.675" y="523.6500000000001" font-size="8.3" textLength="12.95" lengthAdjust="spacingAndGlyphs" text-anchor="middle" fill="#1c1a1b" stroke="#1c1a1b">+20</text>
<text x="230.3" y="523.6500000000001" font-size="8.3" textLength="12.8" lengthAdjust="spacingAndGlyphs" fill="#1c1a1b" stroke="#1c1a1b">Day</text>
<path d="M255.75 403.10V400.40H274.30V403.10" fill="none" stroke="#1a1a1a" stroke-width="1.0"/>
<polygon points="262.72,393.45 263.28,394.63 264.58,394.80 263.63,395.69 263.87,396.98 262.72,396.35 261.58,396.98 261.82,395.69 260.87,394.80 262.17,394.63" fill="#151515"/>
<polygon points="267.32,393.45 267.88,394.63 269.18,394.80 268.23,395.69 268.47,396.98 267.32,396.35 266.18,396.98 266.42,395.69 265.47,394.80 266.77,394.63" fill="#151515"/>
<path d="M311.40 385.20V382.50H329.95V385.20" fill="none" stroke="#1a1a1a" stroke-width="1.0"/>
<polygon points="318.38,375.55 318.93,376.73 320.23,376.90 319.28,377.79 319.52,379.08 318.38,378.45 317.23,379.08 317.47,377.79 316.52,376.90 317.82,376.73" fill="#151515"/>
<polygon points="322.98,375.55 323.53,376.73 324.83,376.90 323.88,377.79 324.12,379.08 322.98,378.45 321.83,379.08 322.07,377.79 321.12,376.90 322.42,376.73" fill="#151515"/>
<text x="358.8" y="377.8" font-size="10.6" font-weight="bold" fill="#000" stroke="#000">I</text>
<text x="426.7" y="376.4" font-size="8.6" textLength="57.7" lengthAdjust="spacingAndGlyphs" fill="#1c1a1b" stroke="#1c1a1b">DCs (thymus)</text>
<rect x="395.80" y="403.30" width="11.00" height="63.20" fill="#17538b"/>
<rect x="395.80" y="466.00" width="11.00" height="19.40" fill="#ca1230"/>
<line x1="401.30" y1="403.30" x2="401.30" y2="399.00" stroke="#231f20" stroke-width="1.0" stroke-linecap="butt"/>
<line x1="399.30" y1="399.00" x2="403.30" y2="399.00" stroke="#231f20" stroke-width="1.0" stroke-linecap="butt"/>
<line x1="401.30" y1="466.00" x2="401.30" y2="462.50" stroke="#0b2f52" stroke-width="1.2" stroke-linecap="butt"/>
<line x1="399.50" y1="462.50" x2="403.10" y2="462.50" stroke="#0b2f52" stroke-width="1.2" stroke-linecap="butt"/>
<rect x="432.90" y="474.70" width="11.00" height="8.50" fill="#17538b"/>
<rect x="432.90" y="482.70" width="11.00" height="2.70" fill="#ca1230"/>
<line x1="438.40" y1="474.70" x2="438.40" y2="474.00" stroke="#231f20" stroke-width="1.0" stroke-linecap="butt"/>
<line x1="436.40" y1="474.00" x2="440.40" y2="474.00" stroke="#231f20" stroke-width="1.0" stroke-linecap="butt"/>
<line x1="438.40" y1="482.70" x2="438.40" y2="482.00" stroke="#0b2f52" stroke-width="1.2" stroke-linecap="butt"/>
<line x1="436.60" y1="482.00" x2="440.20" y2="482.00" stroke="#0b2f52" stroke-width="1.2" stroke-linecap="butt"/>
<rect x="451.45" y="426.00" width="11.00" height="46.30" fill="#17538b"/>
<rect x="451.45" y="471.80" width="11.00" height="13.60" fill="#ca1230"/>
<line x1="456.95" y1="426.00" x2="456.95" y2="419.60" stroke="#231f20" stroke-width="1.0" stroke-linecap="butt"/>
<line x1="454.95" y1="419.60" x2="458.95" y2="419.60" stroke="#231f20" stroke-width="1.0" stroke-linecap="butt"/>
<line x1="456.95" y1="471.80" x2="456.95" y2="469.80" stroke="#0b2f52" stroke-width="1.2" stroke-linecap="butt"/>
<line x1="455.15" y1="469.80" x2="458.75" y2="469.80" stroke="#0b2f52" stroke-width="1.2" stroke-linecap="butt"/>
<rect x="488.55" y="471.20" width="11.00" height="10.10" fill="#17538b"/>
<rect x="488.55" y="480.80" width="11.00" height="4.60" fill="#ca1230"/>
<line x1="494.05" y1="471.20" x2="494.05" y2="467.30" stroke="#231f20" stroke-width="1.0" stroke-linecap="butt"/>
<line x1="492.05" y1="467.30" x2="496.05" y2="467.30" stroke="#231f20" stroke-width="1.0" stroke-linecap="butt"/>
<line x1="494.05" y1="480.80" x2="494.05" y2="480.20" stroke="#0b2f52" stroke-width="1.2" stroke-linecap="butt"/>
<line x1="492.25" y1="480.20" x2="495.85" y2="480.20" stroke="#0b2f52" stroke-width="1.2" stroke-linecap="butt"/>
<rect x="507.10" y="415.80" width="11.00" height="53.00" fill="#17538b"/>
<rect x="507.10" y="468.30" width="11.00" height="17.10" fill="#ca1230"/>
<line x1="512.60" y1="415.80" x2="512.60" y2="408.70" stroke="#231f20" stroke-width="1.0" stroke-linecap="butt"/>
<line x1="510.60" y1="408.70" x2="514.60" y2="408.70" stroke="#231f20" stroke-width="1.0" stroke-linecap="butt"/>
<line x1="512.60" y1="468.30" x2="512.60" y2="464.50" stroke="#0b2f52" stroke-width="1.2" stroke-linecap="butt"/>
<line x1="510.80" y1="464.50" x2="514.40" y2="464.50" stroke="#0b2f52" stroke-width="1.2" stroke-linecap="butt"/>
<line x1="392.05" y1="379.90" x2="392.05" y2="485.90" stroke="#1a1a1a" stroke-width="1.1" stroke-linecap="butt"/>
<line x1="391.50" y1="485.40" x2="520.00" y2="485.40" stroke="#1a1a1a" stroke-width="1.1" stroke-linecap="butt"/>
<line x1="388.85" y1="387.30" x2="392.05" y2="387.30" stroke="#1a1a1a" stroke-width="1.0" stroke-linecap="butt"/>
<text x="386.05" y="390.3" font-size="8.3" textLength="10.96" lengthAdjust="spacingAndGlyphs" text-anchor="end" fill="#1c1a1b" stroke="#1c1a1b">1.5</text>
<line x1="388.85" y1="420.00" x2="392.05" y2="420.00" stroke="#1a1a1a" stroke-width="1.0" stroke-linecap="butt"/>
<text x="386.05" y="423.0" font-size="8.3" textLength="4.38" lengthAdjust="spacingAndGlyphs" text-anchor="end" fill="#1c1a1b" stroke="#1c1a1b">1</text>
<line x1="388.85" y1="452.70" x2="392.05" y2="452.70" stroke="#1a1a1a" stroke-width="1.0" stroke-linecap="butt"/>
<text x="386.05" y="455.7" font-size="8.3" textLength="10.96" lengthAdjust="spacingAndGlyphs" text-anchor="end" fill="#1c1a1b" stroke="#1c1a1b">0.5</text>
<line x1="388.85" y1="485.40" x2="392.05" y2="485.40" stroke="#1a1a1a" stroke-width="1.0" stroke-linecap="butt"/>
<text x="386.05" y="488.4" font-size="8.3" textLength="4.38" lengthAdjust="spacingAndGlyphs" text-anchor="end" fill="#1c1a1b" stroke="#1c1a1b">0</text>
<text transform="translate(368.3,434.1) rotate(-90)" font-size="8.3" text-anchor="middle" textLength="41.7" lengthAdjust="spacingAndGlyphs" fill="#1c1a1b" stroke="#1c1a1b">Cells (×10<tspan font-size="5.9" dy="-3.3">6</tspan><tspan dy="3.3">)</tspan></text>
<line x1="401.30" y1="485.40" x2="401.30" y2="488.40" stroke="#1a1a1a" stroke-width="1.0" stroke-linecap="butt"/>
<g transform="translate(405.90,496.60) rotate(-45)">
<text x="-17.3" y="0" font-size="8.3" textLength="17.3" lengthAdjust="spacingAndGlyphs" fill="#1c1a1b" stroke="#1c1a1b">Cntrl</text>
</g>
<line x1="438.40" y1="485.40" x2="438.40" y2="488.40" stroke="#1a1a1a" stroke-width="1.0" stroke-linecap="butt"/>
<g transform="translate(443.00,496.60) rotate(-45)">
<text x="-19.25" y="0" font-size="8.3" textLength="11.8" lengthAdjust="spacingAndGlyphs" fill="#1c1a1b" stroke="#1c1a1b">NK</text>
<text x="-7.299999999999999" y="-2.4" font-size="6.1" textLength="7.3" lengthAdjust="spacingAndGlyphs" fill="#1c1a1b" stroke="#1c1a1b">syn</text>
</g>
<line x1="456.95" y1="485.40" x2="456.95" y2="488.40" stroke="#1a1a1a" stroke-width="1.0" stroke-linecap="butt"/>
<g transform="translate(460.95,496.70) rotate(-45)">
<text x="-19.9" y="0" font-size="8.3" textLength="11.5" lengthAdjust="spacingAndGlyphs" fill="#1c1a1b" stroke="#1c1a1b">NK</text>
<text x="-8.299999999999999" y="-2.7" font-size="6.1" textLength="8.3" lengthAdjust="spacingAndGlyphs" fill="#1c1a1b" stroke="#1c1a1b">allo</text>
</g>
<line x1="494.05" y1="485.40" x2="494.05" y2="488.40" stroke="#1a1a1a" stroke-width="1.0" stroke-linecap="butt"/>
<g transform="translate(498.65,496.60) rotate(-45)">
<text x="-19.25" y="0" font-size="8.3" textLength="11.8" lengthAdjust="spacingAndGlyphs" fill="#1c1a1b" stroke="#1c1a1b">NK</text>
<text x="-7.299999999999999" y="-2.4" font-size="6.1" textLength="7.3" lengthAdjust="spacingAndGlyphs" fill="#1c1a1b" stroke="#1c1a1b">syn</text>
</g>
<line x1="512.60" y1="485.40" x2="512.60" y2="488.40" stroke="#1a1a1a" stroke-width="1.0" stroke-linecap="butt"/>
<g transform="translate(516.60,496.70) rotate(-45)">
<text x="-19.9" y="0" font-size="8.3" textLength="11.5" lengthAdjust="spacingAndGlyphs" fill="#1c1a1b" stroke="#1c1a1b">NK</text>
<text x="-8.299999999999999" y="-2.7" font-size="6.1" textLength="8.3" lengthAdjust="spacingAndGlyphs" fill="#1c1a1b" stroke="#1c1a1b">allo</text>
</g>
<line x1="426.50" y1="514.45" x2="462.35" y2="514.45" stroke="#1a1a1a" stroke-width="1.0" stroke-linecap="butt"/>
<line x1="426.50" y1="512.45" x2="426.50" y2="516.45" stroke="#1a1a1a" stroke-width="1.0" stroke-linecap="butt"/>
<line x1="462.35" y1="512.45" x2="462.35" y2="516.45" stroke="#1a1a1a" stroke-width="1.0" stroke-linecap="butt"/>
<text x="444.67500000000007" y="523.6500000000001" font-size="8.3" textLength="12.95" lengthAdjust="spacingAndGlyphs" text-anchor="middle" fill="#1c1a1b" stroke="#1c1a1b">+10</text>
<line x1="482.15" y1="514.45" x2="518.00" y2="514.45" stroke="#1a1a1a" stroke-width="1.0" stroke-linecap="butt"/>
<line x1="482.15" y1="512.45" x2="482.15" y2="516.45" stroke="#1a1a1a" stroke-width="1.0" stroke-linecap="butt"/>
<line x1="518.00" y1="512.45" x2="518.00" y2="516.45" stroke="#1a1a1a" stroke-width="1.0" stroke-linecap="butt"/>
<text x="500.32500000000005" y="523.6500000000001" font-size="8.3" textLength="12.95" lengthAdjust="spacingAndGlyphs" text-anchor="middle" fill="#1c1a1b" stroke="#1c1a1b">+20</text>
<text x="413.0" y="523.6500000000001" font-size="8.3" textLength="12.8" lengthAdjust="spacingAndGlyphs" fill="#1c1a1b" stroke="#1c1a1b">Day</text>
<path d="M438.40 416.00V413.30H456.95V416.00" fill="none" stroke="#1a1a1a" stroke-width="1.0"/>
<polygon points="445.38,406.35 445.93,407.53 447.23,407.70 446.28,408.59 446.52,409.88 445.38,409.25 444.23,409.88 444.47,408.59 443.52,407.70 444.82,407.53" fill="#151515"/>
<polygon points="449.98,406.35 450.53,407.53 451.83,407.70 450.88,408.59 451.12,409.88 449.98,409.25 448.83,409.88 449.07,408.59 448.12,407.70 449.42,407.53" fill="#151515"/>
<path d="M494.05 404.70V402.00H512.60V404.70" fill="none" stroke="#1a1a1a" stroke-width="1.0"/>
<polygon points="501.03,395.05 501.58,396.23 502.88,396.40 501.93,397.29 502.17,398.58 501.03,397.95 499.88,398.58 500.12,397.29 499.17,396.40 500.47,396.23" fill="#151515"/>
<polygon points="505.63,395.05 506.18,396.23 507.48,396.40 506.53,397.29 506.77,398.58 505.63,397.95 504.48,398.58 504.72,397.29 503.77,396.40 505.07,396.23" fill="#151515"/>
</svg></body></html>
